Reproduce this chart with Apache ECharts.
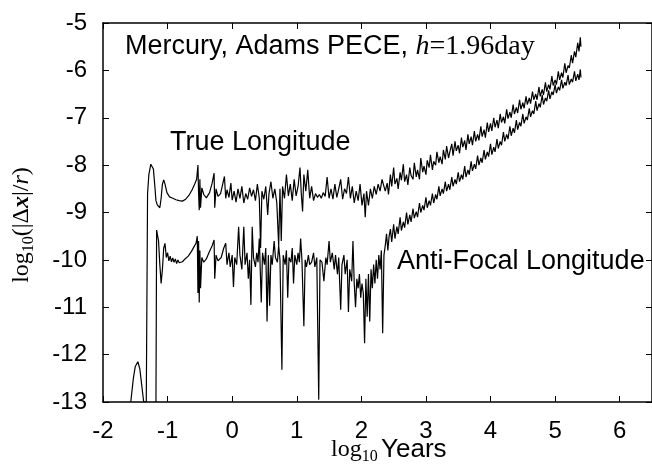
<!DOCTYPE html>
<html>
<head>
<meta charset="utf-8">
<title>Mercury, Adams PECE</title>
<script src="https://cdn.jsdelivr.net/npm/echarts@6/dist/echarts.min.js"></script>
<style>
html,body{margin:0;padding:0;background:#fff;}
#chart{width:652px;height:464px;}
</style>
</head>
<body>
<div id="chart"></div>
<script>
// log10 years vs log10(|dx|/r)
var trueLon = [
  [-1.57,-13.0],[-1.53,-12.5],[-1.50,-12.25],[-1.46,-12.15],[-1.43,-12.3],[-1.40,-12.65],[-1.37,-13.0],[-1.33,-13.0],
  [-1.31,-8.6],[-1.29,-8.2],[-1.26,-7.98],[-1.24,-7.96],[-1.22,-8.08],[-1.20,-8.4],[-1.18,-8.75],[-1.16,-8.84],
  [-1.14,-8.82],[-1.12,-8.9],[-1.10,-8.7],[-1.08,-8.4],[-1.06,-8.31],[-1.04,-8.4],[-1.01,-8.58],[-0.97,-8.67],
  [-0.92,-8.7],[-0.87,-8.73],[-0.82,-8.75],[-0.77,-8.76],[-0.72,-8.72],[-0.67,-8.64],[-0.62,-8.52],[-0.58,-8.4],
  [-0.55,-8.3],[-0.53,-8.0],[-0.52,-8.6],[-0.51,-8.95],[-0.50,-8.3],[-0.49,-8.9],[-0.47,-8.48],[-0.44,-8.62],
  [-0.40,-8.69],[-0.35,-8.58],[-0.31,-8.38],[-0.28,-8.17],[-0.27,-8.9],[-0.25,-8.5],[-0.22,-8.66],[-0.18,-8.6],
  [-0.15,-8.42],[-0.12,-8.24],[-0.10,-8.7],[-0.08,-8.52],[-0.05,-8.68],[-0.02,-8.38],[0.00,-8.74],
  [0.03,-8.55],[0.06,-8.78],[0.09,-8.5],[0.12,-8.7],[0.15,-8.45],[0.18,-8.8],[0.21,-8.6],[0.24,-8.72],
  [0.27,-8.48],[0.30,-8.66],[0.33,-8.52],[0.36,-8.75],[0.39,-8.4],[0.42,-8.7],[0.44,-9.75],[0.46,-8.55],
  [0.49,-8.72],[0.52,-8.45],[0.55,-9.05],[0.57,-8.6],[0.60,-8.35],[0.63,-8.7],[0.66,-8.5],[0.69,-8.78],
  [0.72,-9.7],[0.74,-8.5],[0.76,-9.6],[0.78,-8.45],[0.81,-8.7],[0.84,-8.2],[0.87,-8.65],[0.90,-8.4],
  [0.93,-8.75],[0.96,-8.3],[0.99,-8.65],[1.02,-8.45],[1.05,-8.05],[1.07,-8.6],[1.09,-8.98],[1.11,-8.2],
  [1.14,-8.55],[1.17,-8.1],[1.20,-8.7],[1.23,-8.45],[1.26,-8.75],[1.29,-8.6],[1.32,-8.68],[1.35,-8.62],
  [1.38,-8.7],[1.41,-8.58],[1.44,-8.66],[1.47,-8.25],[1.50,-8.7],[1.53,-8.5],[1.56,-8.72],[1.59,-8.4],
  [1.62,-8.68],[1.65,-8.5],[1.68,-8.3],[1.71,-8.72],[1.74,-8.5],[1.77,-8.6],[1.80,-8.25],[1.83,-8.7],
  [1.86,-8.45],[1.89,-8.8],[1.92,-8.55],[1.95,-8.75],[1.98,-8.4],[2.01,-8.85],[2.04,-8.6],[2.06,-9.1],
  [2.08,-8.55],[2.11,-8.85],[2.14,-8.5],[2.17,-8.7],[2.20,-8.45],[2.23,-8.62],[2.26,-8.4],[2.29,-8.55],
  [2.32,-8.3],[2.35,-8.30],[2.37,-8.55],[2.40,-8.38],[2.42,-8.62],[2.45,-8.2],[2.47,-8.45],[2.50,-8.05],
  [2.52,-8.4],[2.55,-8.28],[2.57,-8.5],[2.60,-8.15],[2.62,-8.32],[2.65,-7.98],[2.67,-8.35],[2.70,-8.2],
  [2.72,-8.42],[2.75,-8.05],[2.77,-8.22],[2.80,-8.3],[2.82,-7.95],[2.85,-8.25],[2.87,-8.1],[2.90,-8.3],
  [2.92,-7.85],[2.95,-8.15],[2.97,-8.02],[3.00,-8.2],[3.02,-7.9],[3.05,-8.05],[3.07,-7.78],[3.10,-8.1],
  [3.12,-7.92],[3.15,-8.0],[3.17,-7.72],[3.20,-7.95],[3.22,-7.82],[3.25,-7.98],[3.27,-7.68],[3.30,-7.88],
  [3.32,-7.6],[3.35,-7.85],[3.37,-7.72],[3.40,-7.55],[3.42,-7.8],[3.45,-7.5],[3.47,-7.7],[3.50,-7.58],
  [3.52,-7.75],[3.55,-7.42],[3.57,-7.62],[3.60,-7.48],[3.62,-7.68],[3.65,-7.35],[3.67,-7.55],[3.70,-7.4],
  [3.72,-7.58],[3.75,-7.28],[3.77,-7.5],[3.80,-7.35],[3.82,-7.48],[3.85,-7.18],[3.87,-7.4],[3.90,-7.25],
  [3.92,-7.42],[3.95,-7.1],[3.97,-7.3],[4.00,-7.12],[4.02,-7.28],[4.05,-7.0],[4.07,-7.2],[4.10,-7.05],
  [4.12,-7.22],[4.15,-6.92],[4.17,-7.1],[4.20,-6.98],[4.22,-7.12],[4.25,-6.82],[4.27,-7.02],[4.30,-6.88],
  [4.32,-7.0],[4.35,-6.72],[4.37,-6.92],[4.40,-6.78],[4.42,-6.9],[4.45,-6.62],[4.47,-6.82],[4.50,-6.68],
  [4.52,-6.8],[4.55,-6.55],[4.57,-6.72],[4.60,-6.58],[4.62,-6.7],[4.65,-6.45],[4.67,-6.62],[4.70,-6.5],
  [4.72,-6.62],[4.75,-6.35],[4.77,-6.55],[4.80,-6.4],[4.82,-6.52],[4.85,-6.25],[4.87,-6.45],[4.90,-6.3],
  [4.92,-6.4],[4.95,-6.12],[4.97,-6.32],[5.00,-6.2],[5.02,-6.3],[5.05,-6.02],[5.07,-6.2],[5.10,-6.05],
  [5.12,-6.15],[5.15,-5.85],[5.17,-6.05],[5.20,-5.9],[5.22,-5.95],[5.25,-5.68],[5.27,-5.85],[5.30,-5.6],
  [5.32,-5.72],[5.35,-5.42],[5.37,-5.6],[5.39,-5.3],[5.40,-5.5]
];

var antiFocal = [
  [-1.18,-13.0],[-1.17,-9.37],[-1.16,-9.33],[-1.14,-9.6],[-1.12,-10.1],[-1.10,-10.5],[-1.08,-10.2],[-1.06,-9.75],
  [-1.04,-9.65],[-1.02,-9.95],[-1.00,-9.85],[-0.98,-10.02],[-0.96,-9.92],[-0.94,-10.04],[-0.92,-9.96],[-0.90,-10.05],
  [-0.88,-9.98],[-0.86,-10.08],[-0.84,-10.0],[-0.82,-10.06],[-0.80,-10.02],[-0.77,-10.04],[-0.73,-9.98],[-0.68,-9.92],
  [-0.63,-9.82],[-0.59,-9.72],[-0.56,-9.65],[-0.54,-9.5],[-0.53,-10.7],[-0.52,-9.6],[-0.51,-10.9],[-0.50,-9.8],
  [-0.49,-10.6],[-0.47,-9.95],[-0.44,-10.05],[-0.40,-9.98],[-0.36,-9.85],[-0.31,-9.7],[-0.28,-9.58],[-0.27,-10.4],
  [-0.25,-9.9],[-0.22,-10.02],[-0.17,-9.95],[-0.13,-9.75],[-0.10,-9.65],[-0.08,-10.1],[-0.05,-9.85],[-0.03,-10.15],
  [0.00,-9.9],[0.02,-10.57],[0.04,-9.95],[0.07,-10.1],[0.10,-9.3],[0.12,-9.9],[0.15,-10.2],[0.18,-9.3],
  [0.20,-10.1],[0.23,-9.85],[0.25,-10.4],[0.27,-10.0],[0.29,-10.95],[0.31,-9.3],[0.33,-9.95],[0.36,-10.15],
  [0.38,-9.85],[0.40,-10.05],[0.42,-9.55],[0.45,-10.9],[0.47,-9.85],[0.50,-10.1],[0.52,-9.75],[0.54,-11.3],
  [0.56,-9.9],[0.58,-10.97],[0.60,-9.9],[0.62,-10.1],[0.65,-9.6],[0.67,-9.95],[0.70,-10.05],[0.72,-9.7],
  [0.74,-10.0],[0.77,-12.32],[0.79,-9.9],[0.82,-10.1],[0.84,-9.8],[0.86,-10.8],[0.88,-9.95],[0.91,-10.05],
  [0.93,-9.75],[0.95,-10.5],[0.97,-9.9],[1.00,-10.1],[1.02,-9.85],[1.04,-10.05],[1.06,-9.55],[1.08,-10.0],
  [1.11,-11.4],[1.13,-10.0],[1.15,-10.15],[1.18,-9.9],[1.20,-10.1],[1.23,-10.05],[1.26,-9.85],[1.28,-10.15],
  [1.31,-9.95],[1.34,-12.95],[1.36,-10.0],[1.39,-10.05],[1.42,-10.45],[1.45,-9.95],[1.47,-10.1],[1.50,-9.6],
  [1.52,-10.05],[1.55,-9.85],[1.58,-10.2],[1.60,-9.9],[1.63,-10.3],[1.65,-9.95],[1.68,-11.05],[1.70,-10.1],
  [1.73,-9.9],[1.75,-10.3],[1.78,-10.0],[1.80,-11.1],[1.82,-10.2],[1.85,-10.45],[1.87,-9.6],[1.89,-10.5],
  [1.91,-11.0],[1.93,-10.4],[1.95,-10.6],[1.97,-10.3],[1.99,-10.8],[2.01,-10.5],[2.03,-10.7],[2.05,-11.76],
  [2.07,-10.4],[2.09,-11.2],[2.11,-10.3],[2.13,-11.3],[2.15,-10.2],[2.17,-10.6],[2.19,-10.1],[2.21,-10.5],
  [2.23,-10.0],[2.25,-10.4],[2.27,-9.9],[2.29,-10.2],[2.31,-9.8],[2.33,-11.55],[2.35,-9.9],[2.37,-9.7],
  [2.39,-9.45],[2.41,-9.8],[2.43,-9.5],[2.45,-9.35],[2.47,-9.62],[2.50,-9.25],[2.52,-9.55],[2.55,-9.3],
  [2.57,-9.45],[2.60,-9.1],[2.62,-9.38],[2.65,-9.2],[2.67,-9.32],[2.70,-9.0],[2.72,-9.25],[2.75,-9.05],
  [2.77,-9.2],[2.80,-8.92],[2.82,-9.12],[2.85,-8.98],[2.87,-9.1],[2.90,-8.8],[2.92,-9.0],[2.95,-8.85],
  [2.97,-8.95],[3.00,-8.68],[3.02,-8.9],[3.05,-8.75],[3.07,-8.85],[3.10,-8.6],[3.12,-8.8],[3.15,-8.62],
  [3.17,-8.72],[3.20,-8.45],[3.22,-8.65],[3.25,-8.5],[3.27,-8.6],[3.30,-8.35],[3.32,-8.55],[3.35,-8.4],
  [3.37,-8.52],[3.40,-8.25],[3.42,-8.45],[3.45,-8.3],[3.47,-8.4],[3.50,-8.15],[3.52,-8.35],[3.55,-8.2],
  [3.57,-8.3],[3.60,-8.02],[3.62,-8.25],[3.65,-8.1],[3.67,-8.2],[3.70,-7.92],[3.72,-8.12],[3.75,-7.98],
  [3.77,-8.08],[3.80,-7.8],[3.82,-8.0],[3.85,-7.85],[3.87,-7.95],[3.90,-7.68],[3.92,-7.88],[3.95,-7.72],
  [3.97,-7.82],[4.00,-7.55],[4.02,-7.78],[4.05,-7.62],[4.07,-7.72],[4.10,-7.45],[4.12,-7.65],[4.15,-7.5],
  [4.17,-7.58],[4.20,-7.3],[4.22,-7.5],[4.25,-7.35],[4.27,-7.45],[4.30,-7.18],[4.32,-7.38],[4.35,-7.22],
  [4.37,-7.32],[4.40,-7.05],[4.42,-7.25],[4.45,-7.1],[4.47,-7.18],[4.50,-6.92],[4.52,-7.12],[4.55,-6.98],
  [4.57,-7.05],[4.60,-6.8],[4.62,-6.98],[4.65,-6.85],[4.67,-6.92],[4.70,-6.65],[4.72,-6.85],[4.75,-6.7],
  [4.77,-6.78],[4.80,-6.52],[4.82,-6.72],[4.85,-6.58],[4.87,-6.65],[4.90,-6.42],[4.92,-6.6],[4.95,-6.45],
  [4.97,-6.52],[5.00,-6.3],[5.02,-6.48],[5.05,-6.35],[5.07,-6.42],[5.10,-6.2],[5.12,-6.38],[5.15,-6.25],
  [5.17,-6.32],[5.20,-6.1],[5.22,-6.3],[5.25,-6.18],[5.27,-6.25],[5.30,-6.02],[5.32,-6.22],[5.35,-6.08],
  [5.37,-6.2],[5.39,-5.98],[5.40,-6.15]
];

var sans = 'Liberation Sans';
var serif = 'Liberation Serif';

var chart = echarts.init(document.getElementById('chart'));

function frameAxis(pos, show, mn, mx, margin) {
  return {
    type: 'value',
    position: pos,
    min: mn,
    max: mx,
    interval: 1,
    axisLine: { show: true, onZero: false, lineStyle: { color: '#000', width: 1.5 } },
    axisTick: { show: true, inside: true, length: 6, lineStyle: { color: '#000', width: 1 } },
    axisLabel: {
      show: show, margin: margin, color: '#000', fontSize: 24, fontFamily: sans,
      showMaxLabel: pos == 'bottom' ? false : null
    },
    splitLine: { show: false }
  };
}

var option = {
  animation: false,
  backgroundColor: '#fff',
  grid: { left: 103, top: 23, right: -2, bottom: 62 },
  xAxis: [frameAxis('bottom', true, -2, 6.5, 17), frameAxis('top', false, -2, 6.5, 8)],
  yAxis: [frameAxis('left', true, -13, -5, 16), frameAxis('right', false, -13, -5, 8)],
  series: [
    {
      name: 'True Longitude',
      type: 'line',
      data: trueLon,
      showSymbol: false,
      lineStyle: { color: '#000', width: 1.2 }
    },
    {
      name: 'Anti-Focal Longitude',
      type: 'line',
      data: antiFocal,
      showSymbol: false,
      lineStyle: { color: '#000', width: 1.2 }
    }
  ],
  graphic: [
    {
      type: 'text', x: 125, y: 47,
      style: {
        text: '{a|Mercury, Adams PECE, }{h|h}{b|=1.96day}',
        align: 'left', verticalAlign: 'middle',
        rich: {
          a: { fontFamily: sans, fontSize: 27, fill: '#000', verticalAlign: 'middle' },
          h: { fontFamily: serif, fontStyle: 'italic', fontSize: 28, fill: '#000', verticalAlign: 'middle' },
          b: { fontFamily: serif, fontSize: 28, fill: '#000', verticalAlign: 'middle' }
        }
      }
    },
    {
      type: 'text', x: 170, y: 143,
      style: { text: 'True Longitude', font: '27px "Liberation Sans"', fill: '#000', align: 'left', verticalAlign: 'middle' }
    },
    {
      type: 'text', x: 397, y: 262,
      style: { text: 'Anti-Focal Longitude', font: '27px "Liberation Sans"', fill: '#000', align: 'left', verticalAlign: 'middle' }
    },
    {
      type: 'text', x: 331, y: 450,
      style: {
        text: '{s|log}{sub|10} {y|Years}',
        align: 'left', verticalAlign: 'middle',
        rich: {
          s: { fontFamily: serif, fontSize: 24, fill: '#000', verticalAlign: 'middle', lineHeight: 28 },
          sub: { fontFamily: serif, fontSize: 16, fill: '#000', verticalAlign: 'middle', padding: [14, 0, 0, 0] },
          y: { fontFamily: sans, fontSize: 26, fill: '#000', verticalAlign: 'middle', lineHeight: 28 }
        }
      }
    },
    {
      type: 'text', x: 22, y: 225, rotation: Math.PI / 2,
      style: {
        text: '{s|log}{sub|10}{s|(|Δ}{x|x}{s||/}{r|r}{s|)}',
        align: 'center', verticalAlign: 'middle',
        rich: {
          s: { fontFamily: serif, fontSize: 24, fill: '#000', verticalAlign: 'middle', lineHeight: 28 },
          sub: { fontFamily: serif, fontSize: 16, fill: '#000', verticalAlign: 'middle', padding: [14, 0, 0, 0] },
          x: { fontFamily: serif, fontSize: 24, fontWeight: 'bold', fontStyle: 'italic', fill: '#000', verticalAlign: 'middle', lineHeight: 28 },
          r: { fontFamily: serif, fontSize: 24, fontStyle: 'italic', fill: '#000', verticalAlign: 'middle', lineHeight: 28 }
        }
      }
    }
  ]
};
chart.setOption(option);
</script>
</body>
</html>
